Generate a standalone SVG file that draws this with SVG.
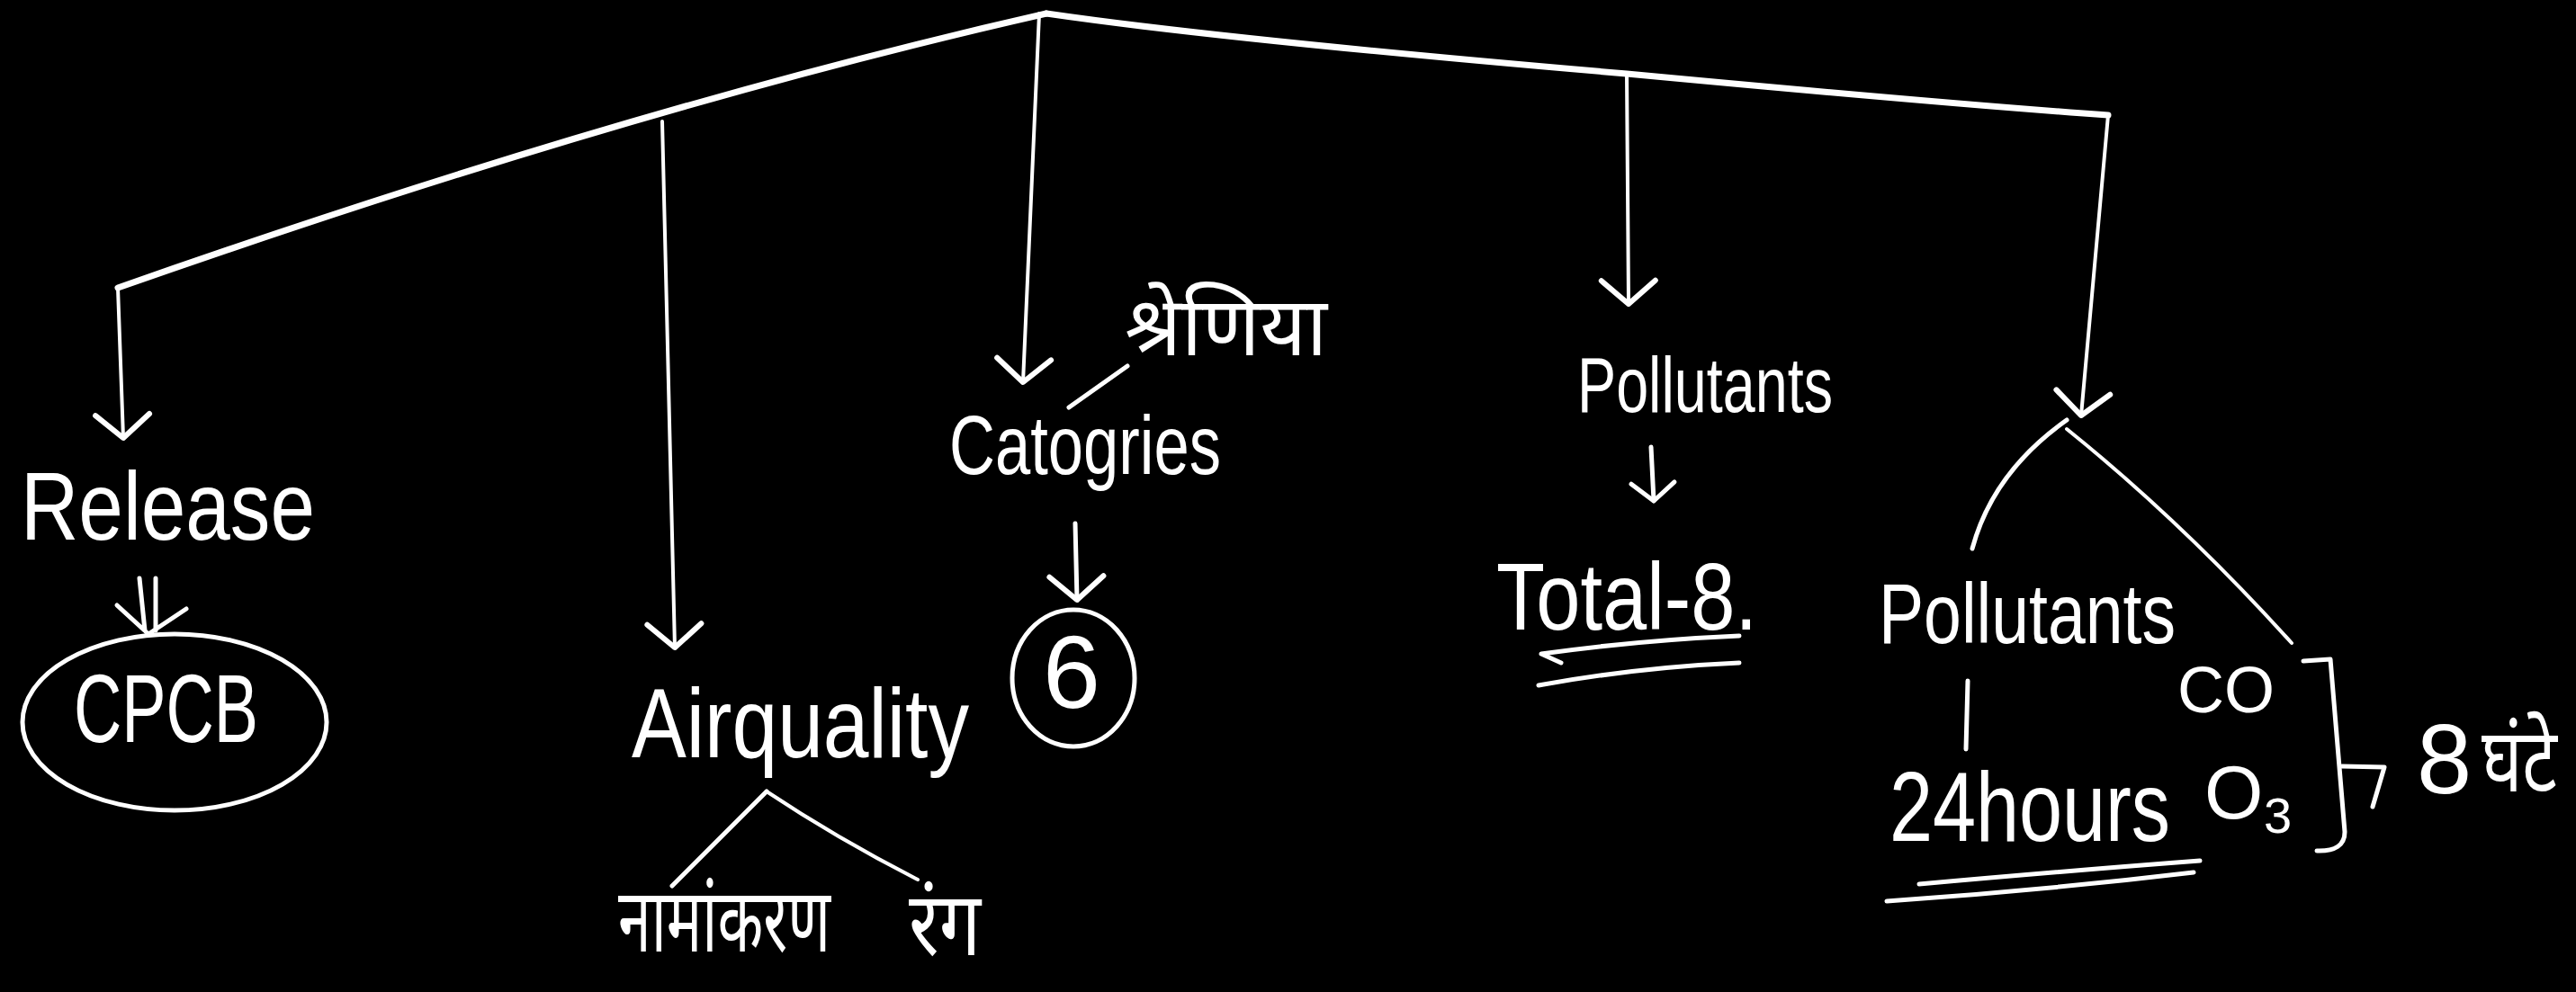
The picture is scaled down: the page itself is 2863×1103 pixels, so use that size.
<svg xmlns="http://www.w3.org/2000/svg" width="2863" height="1103" viewBox="0 0 2863 1103">
<defs>
<style>
.ln{fill:none;stroke:#fff;stroke-linecap:round;stroke-linejoin:round}
.thick{stroke-width:7}
.mid{stroke-width:5}
.thin{stroke-width:4}
.t{fill:#fff;font-family:"Liberation Sans","DejaVu Sans",sans-serif}
.h{fill:#fff;font-family:"Noto Sans Devanagari","Noto Sans","Lohit Devanagari","FreeSans",sans-serif}
</style>
<marker id="ah" markerUnits="userSpaceOnUse" markerWidth="80" markerHeight="80" viewBox="-40 -40 80 80" refX="0" refY="0" orient="auto" overflow="visible">
<path d="M-26,-30 L0,0 L-26,30" fill="none" stroke="#fff" stroke-width="6" stroke-linecap="round" stroke-linejoin="round"/>
</marker>
<marker id="ahs" markerUnits="userSpaceOnUse" markerWidth="60" markerHeight="60" viewBox="-30 -30 60 60" refX="0" refY="0" orient="auto" overflow="visible">
<path d="M-20,-24 L0,0 L-20,24" fill="none" stroke="#fff" stroke-width="5" stroke-linecap="round" stroke-linejoin="round"/>
</marker>
</defs>
<rect x="0" y="0" width="2863" height="1103" fill="#000"/>

<g id="connectors">
<path class="ln thick" d="M1163,15 Q700,120 131,320"/>
<path class="ln thick" d="M1163,15 C1300,35 1550,60 1808,82 C2000,100 2200,118 2343,128"/>
<path class="ln thin" d="M131,320 L137,487" marker-end="url(#ah)"/>
<path class="ln thin" d="M736,135 L750,720" marker-end="url(#ah)"/>
<path class="ln thin" d="M1155,15 L1137,425" marker-end="url(#ah)"/>
<path class="ln thin" d="M1808,82 L1810,338" marker-end="url(#ah)"/>
<path class="ln thin" d="M2343,128 L2313,462" marker-end="url(#ah)"/>
<path class="ln mid" d="M155,643 L161,701 M173,643 L173,701 M130,673 L165,705 L207,677"/>
<path class="ln mid" d="M1195,582 L1197,667" marker-end="url(#ah)"/>
<path class="ln mid" d="M1188,453 L1253,407"/>
<path class="ln mid" d="M1835,497 L1838,557" marker-end="url(#ahs)"/>
<path class="ln mid" d="M747,985 L852,880"/>
<path class="ln thin" d="M852,880 Q930,932 1020,978"/>
<path class="ln mid" d="M2192,610 Q2215,525 2297,467"/>
<path class="ln thin" d="M2297,477 Q2425,580 2547,715"/>
<path class="ln mid" d="M2187,757 L2185,833"/>
<path class="ln mid" d="M1713,727 Q1820,712 1933,707 M1713,727 L1735,737"/>
<path class="ln mid" d="M1710,762 Q1820,742 1933,737"/>
<path class="ln mid" d="M2133,983 Q2300,968 2445,957"/>
<path class="ln mid" d="M2097,1002 Q2270,990 2438,970"/>
<path class="ln mid" d="M2560,735 L2590,733 L2606,925 Q2606,947 2575,946"/>
<path class="ln mid" d="M2603,852 L2650,853 L2637,897"/>
</g>

<g id="node-release">
<text class="t" x="23" y="600" font-size="108" textLength="327" lengthAdjust="spacingAndGlyphs">Release</text>
</g>
<g id="node-cpcb">
<ellipse class="ln mid" cx="194" cy="803" rx="169" ry="98"/>
<text class="t" x="82" y="825" font-size="108" textLength="205" lengthAdjust="spacingAndGlyphs">CPCB</text>
</g>
<g id="node-airquality">
<text class="t" x="702" y="842" font-size="110" textLength="375" lengthAdjust="spacingAndGlyphs">Airquality</text>
</g>
<g id="node-namankaran">
<text class="h" x="687" y="1058" font-size="100" textLength="236" lengthAdjust="spacingAndGlyphs">नामांकरण</text>
</g>
<g id="node-rang">
<text class="h" x="1010" y="1062" font-size="100" textLength="80" lengthAdjust="spacingAndGlyphs">रंग</text>
</g>
<g id="node-categories">
<text class="t" x="1055" y="527" font-size="92" textLength="302" lengthAdjust="spacingAndGlyphs">Catogries</text>
</g>
<g id="node-shreniya">
<text class="h" x="1250" y="395" font-size="92" textLength="225" lengthAdjust="spacingAndGlyphs">श्रेणिया</text>
</g>
<g id="node-six">
<ellipse class="ln mid" cx="1193" cy="754" rx="68" ry="76"/>
<text class="t" x="1191" y="787" font-size="115" text-anchor="middle">6</text>
</g>
<g id="node-pollutants">
<text class="t" x="1753" y="458" font-size="88" textLength="284" lengthAdjust="spacingAndGlyphs">Pollutants</text>
</g>
<g id="node-total">
<text class="t" x="1663" y="700" font-size="105" textLength="290" lengthAdjust="spacingAndGlyphs">Total-8.</text>
</g>
<g id="node-pollutants2">
<text class="t" x="2088" y="715" font-size="95" textLength="330" lengthAdjust="spacingAndGlyphs">Pollutants</text>
</g>
<g id="node-24hours">
<text class="t" x="2100" y="935" font-size="110" textLength="312" lengthAdjust="spacingAndGlyphs">24hours</text>
</g>
<g id="node-co-o3">
<text class="t" x="2420" y="792" font-size="72" textLength="108" lengthAdjust="spacingAndGlyphs">CO</text>
<text class="t" x="2450" y="910" font-size="84">O<tspan x="2516" y="926" font-size="56">3</tspan></text>
</g>
<g id="node-8ghante">
<text class="t" x="2686" y="882" font-size="110">8</text>
<text class="h" x="2758" y="880" font-size="100" textLength="84" lengthAdjust="spacingAndGlyphs">घंटे</text>
</g>
</svg>
